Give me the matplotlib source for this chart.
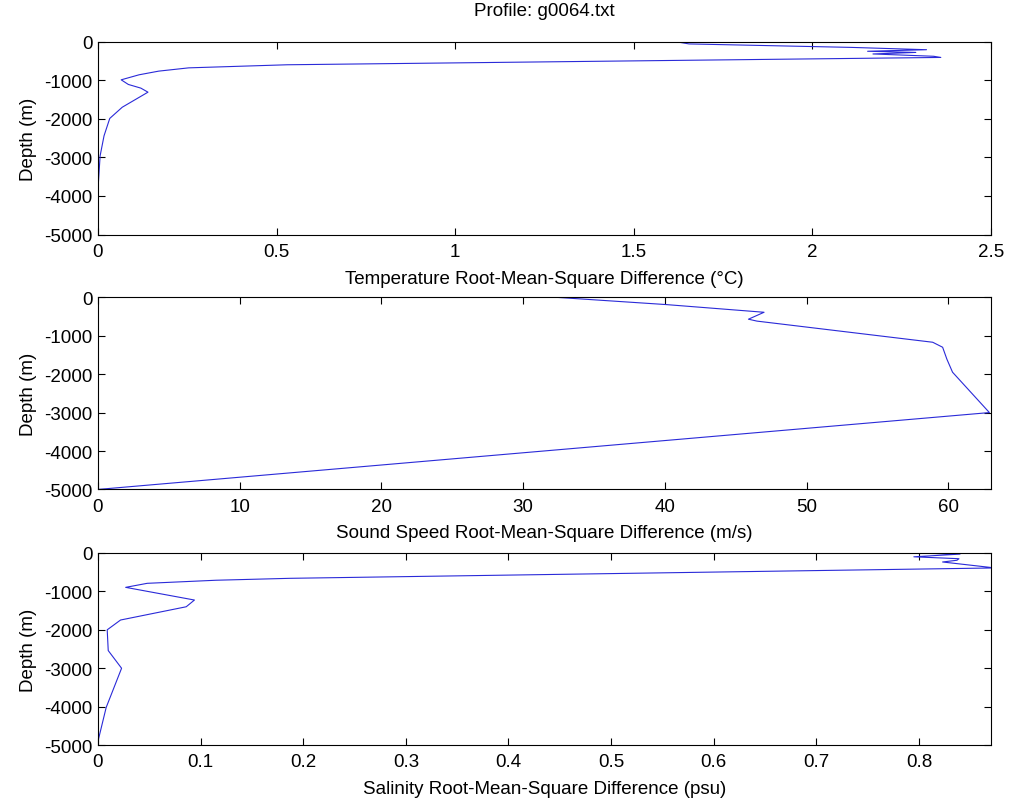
"""
plot.py

RMS difference profiles (temperature, sound speed, salinity) vs depth
for one profile file, MATLAB-style three stacked panels.
"""

import matplotlib
matplotlib.use('Agg')
import matplotlib.pyplot as plt

plt.rcParams['font.family'] = ['Liberation Sans', 'DejaVu Sans']
plt.rcParams['font.size'] = 13.5
plt.rcParams['axes.unicode_minus'] = False

PROFILE = 'g0064.txt'
LINE_COLOR = '#2a2ad8'

# ── DATA ──────────────────────────────────────────────────────
temp_rms = [1.617, 1.655, 2.11, 2.32, 2.155, 2.29, 2.17, 2.34, 2.36,
            0.53, 0.254, 0.17, 0.115, 0.065, 0.085, 0.12, 0.14,
            0.068, 0.033, 0.017, 0.006, 0.0]
temp_depth = [0, -60, -150, -210, -250, -280, -320, -380, -410,
              -600, -680, -765, -860, -990, -1110, -1205, -1310,
              -1700, -1990, -2440, -2960, -3830]

sound_rms = [32.3, 40.1, 47.0, 45.9, 46.5, 58.9, 59.6, 59.9, 60.3,
             62.9, 0.0]
sound_depth = [0, -190, -390, -570, -620, -1170, -1300, -1610, -1950,
               -3000, -5000]

sal_rms = [0.790, 0.840, 0.795, 0.839, 0.837, 0.823, 0.874, 0.187,
           0.115, 0.048, 0.027, 0.094, 0.086, 0.022, 0.009, 0.010,
           0.023, 0.008, 0.0]
sal_depth = [0, -30, -100, -150, -190, -235, -390, -660,
             -710, -790, -895, -1225, -1400, -1745, -2000, -2540,
             -3000, -4020, -4900]

panels = [
    (temp_rms, temp_depth, 2.5, [0, 0.5, 1, 1.5, 2, 2.5],
     'Temperature Root-Mean-Square Difference (°C)'),
    (sound_rms, sound_depth, 63.0, [0, 10, 20, 30, 40, 50, 60],
     'Sound Speed Root-Mean-Square Difference (m/s)'),
    (sal_rms, sal_depth, 0.87, [0, 0.1, 0.2, 0.3, 0.4, 0.5, 0.6, 0.7, 0.8],
     'Salinity Root-Mean-Square Difference (psu)'),
]

# axes boxes in figure fraction (left, bottom, width, height)
boxes = [
    (0.097, 0.707, 0.884, 0.240),
    (0.097, 0.390, 0.884, 0.239),
    (0.097, 0.072, 0.884, 0.239),
]

fig = plt.figure(figsize=(10.1, 8.04), dpi=100)

for (x, d, xmax, xticks, xlabel), box in zip(panels, boxes):
    ax = fig.add_axes(box)
    ax.plot(x, d, color=LINE_COLOR, lw=0.8)
    ax.set_xlim(0, xmax)
    ax.set_ylim(-5000, 0)
    ax.set_xticks(xticks)
    ax.set_xticklabels([f'{t:g}' for t in xticks])
    ax.set_yticks([0, -1000, -2000, -3000, -4000, -5000])
    ax.set_xlabel(xlabel, labelpad=7)
    ax.set_ylabel('Depth (m)', labelpad=5)
    ax.tick_params(direction='in', top=True, right=True, length=5,
                   width=0.8, pad=6)
    ax.tick_params(axis='y', pad=4)
    for sp in ax.spines.values():
        sp.set_linewidth(0.8)
    if box is boxes[0]:
        ax.set_title(f'Profile: {PROFILE}', fontsize=13.5, pad=19)

fig.savefig('out.png', dpi=100)
